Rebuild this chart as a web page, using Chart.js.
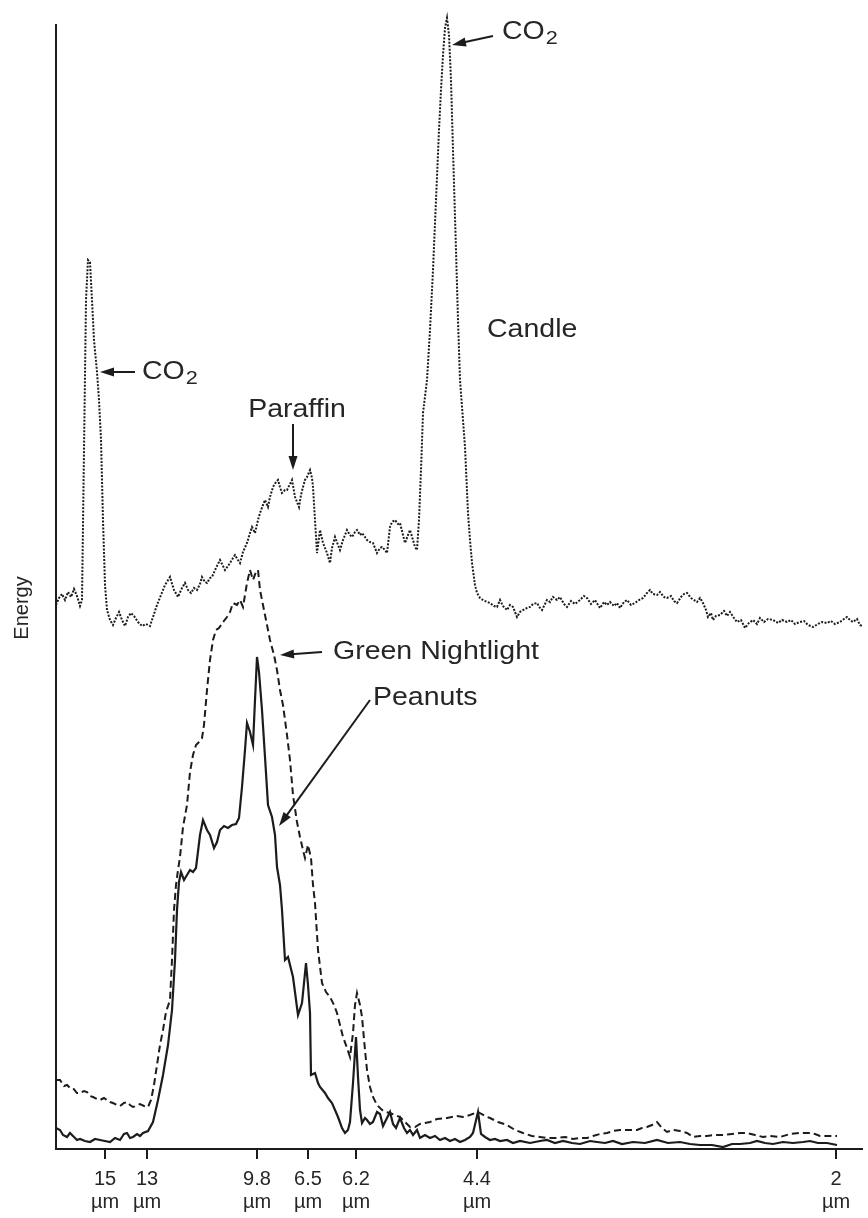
<!DOCTYPE html>
<html>
<head>
<meta charset="utf-8">
<script src="https://cdn.jsdelivr.net/npm/chart.js@4.4.1/dist/chart.umd.min.js"></script>
<style>
  html, body { margin: 0; padding: 0; background: #fff; }
  #wrap { width: 868px; height: 1218px; position: relative; }
</style>
</head>
<body>
<div id="wrap"><canvas id="spectrum"></canvas></div>
<script>
// Emission spectra: [detector channel, energy (arbitrary units)]
const candle = [
  [0,544],[3,551],[6,555],[9,549],[12,557],[15,552],[18,560],[21,553],[24,543],[26,549],
  [28,699],[30,849],[32,889],[34,887],[36,849],[38,809],[41,777],[43,749],[45,709],[47,629],
  [49,564],[51,539],[54,529],[57,524],[60,531],[63,537],[66,529],[69,523],[72,532],[75,536],
  [78,533],[82,527],[86,523],[90,525],[94,523],[97,532],[101,544],[105,554],[109,564],[114,572],
  [118,559],[122,552],[126,561],[129,566],[132,559],[135,556],[138,561],[141,559],[144,565],[146,572],
  [149,567],[151,566],[154,571],[156,572],[160,581],[164,589],[167,583],[169,579],[172,583],[174,586],
  [177,591],[179,594],[182,589],[184,586],[187,597],[191,606],[194,616],[196,622],[199,616],[202,629],
  [204,636],[207,644],[209,649],[212,642],[214,652],[217,662],[220,667],[222,669],[224,662],[226,656],
  [229,659],[231,659],[234,665],[236,669],[239,652],[241,647],[243,642],[245,654],[247,662],[249,669],
  [251,672],[254,679],[256,671],[257,662],[259,629],[261,596],[264,619],[267,606],[269,601],[271,596],
  [274,586],[276,601],[279,612],[282,604],[284,599],[287,609],[291,619],[294,614],[296,612],[299,617],
  [301,619],[304,614],[306,616],[309,612],[311,609],[314,607],[317,606],[319,601],[321,596],[324,601],
  [326,602],[329,599],[331,596],[334,622],[336,627],[339,629],[342,625],[344,626],[347,614],[349,606],
  [352,614],[354,619],[357,609],[359,602],[361,599],[363,629],[365,679],[367,736],[371,769],[374,819],
  [377,879],[380,949],[383,1019],[385,1059],[387,1094],[389,1121],[391,1131],[393,1114],[395,1069],[397,999],
  [400,899],[402,829],[404,769],[407,729],[409,702],[412,636],[414,609],[416,586],[419,564],[421,556],
  [424,551],[427,549],[431,547],[434,546],[438,543],[441,542],[444,549],[447,543],[451,539],[454,544],
  [457,542],[461,532],[464,537],[467,539],[471,541],[474,542],[477,545],[481,546],[484,541],[486,539],
  [489,545],[491,549],[494,547],[497,552],[501,549],[504,552],[508,545],[511,542],[515,548],[519,545],
  [524,549],[528,553],[531,551],[535,545],[539,549],[544,541],[548,547],[551,544],[554,547],[558,543],
  [561,546],[564,541],[568,547],[571,549],[575,544],[579,546],[583,549],[587,551],[591,556],[594,559],
  [597,555],[601,554],[604,557],[608,552],[611,551],[615,553],[618,548],[621,546],[625,552],[628,555],
  [631,556],[635,551],[638,549],[641,547],[644,551],[647,546],[650,539],[652,532],[655,536],[657,529],
  [660,533],[664,534],[668,538],[671,533],[674,537],[678,531],[681,527],[685,529],[689,521],[693,526],
  [697,529],[701,525],[704,531],[708,527],[712,530],[717,529],[722,526],[726,529],[731,527],[735,529],
  [739,525],[744,527],[748,528],[752,524],[757,522],[762,525],[766,527],[771,526],[775,528],[779,525],
  [784,527],[788,530],[791,532],[794,529],[797,527],[801,530],[804,524],[806,523]
];

const greenNightlight = [
  [0,69],[4,69],[8,63],[11,64],[14,61],[17,61],[21,56],[24,56],[28,58],[31,57],
  [34,53],[37,52],[41,50],[44,49],[48,51],[51,49],[54,47],[57,46],[61,44],[64,43],
  [68,46],[71,47],[74,44],[77,42],[80,43],[84,45],[88,43],[92,42],[95,49],[98,64],
  [101,84],[104,104],[107,119],[110,137],[114,149],[116,189],[118,239],[120,264],[122,279],[124,292],
  [127,322],[131,344],[134,377],[137,394],[140,404],[143,407],[146,411],[148,424],[151,459],[154,489],
  [157,509],[160,519],[163,521],[167,527],[171,532],[174,537],[177,546],[181,544],[184,549],[187,542],
  [191,566],[194,579],[197,569],[200,577],[202,579],[204,559],[207,544],[210,529],[214,509],[218,494],
  [221,479],[224,459],[227,444],[231,414],[234,389],[237,354],[241,327],[244,312],[247,299],[249,291],
  [252,304],[255,291],[257,264],[259,246],[262,199],[266,166],[270,157],[274,152],[278,144],[281,136],
  [284,124],[287,112],[291,101],[294,92],[297,116],[299,144],[301,156],[304,144],[306,132],[309,99],
  [311,79],[314,62],[317,52],[321,44],[326,39],[330,37],[334,36],[339,34],[344,32],[349,27],
  [354,22],[359,22],[364,25],[369,26],[374,27],[381,30],[391,31],[401,33],[407,32],[414,34],
  [422,37],[429,33],[434,31],[442,27],[451,24],[459,19],[467,16],[476,13],[484,12],[492,11],
  [501,11],[509,12],[517,10],[524,11],[531,11],[537,13],[544,15],[551,16],[557,18],[564,19],
  [572,19],[581,19],[586,21],[591,22],[596,24],[601,27],[606,21],[611,17],[617,19],[624,18],
  [631,16],[637,12],[644,13],[651,13],[659,14],[667,14],[676,15],[684,16],[691,16],[699,14],
  [707,12],[714,13],[724,12],[734,15],[744,16],[754,16],[759,15],[764,13],[772,13],[781,13]
];

const peanuts = [
  [0,21],[4,19],[7,14],[11,12],[14,16],[17,13],[21,9],[24,10],[29,8],[34,7],
  [39,10],[44,9],[49,8],[54,7],[59,11],[64,9],[68,15],[71,16],[74,11],[77,12],
  [81,15],[84,13],[87,16],[92,18],[97,27],[102,49],[107,74],[112,104],[116,139],[119,189],
  [121,239],[123,267],[125,277],[128,269],[131,274],[134,279],[137,277],[140,281],[144,314],[147,329],
  [151,319],[154,314],[158,301],[161,307],[164,319],[168,323],[172,321],[176,324],[180,325],[183,331],
  [186,362],[189,399],[191,426],[194,417],[197,404],[199,449],[201,492],[203,477],[206,439],[209,392],
  [212,344],[216,332],[219,314],[221,282],[224,264],[226,239],[229,189],[232,192],[237,172],[242,134],
  [246,146],[250,186],[252,164],[254,136],[255,74],[259,76],[262,66],[264,62],[269,56],[272,51],
  [276,46],[279,39],[282,32],[286,21],[289,16],[292,19],[294,27],[297,66],[300,112],[302,72],
  [304,39],[306,26],[309,31],[311,29],[314,25],[317,27],[321,37],[324,35],[327,23],[330,29],
  [334,37],[337,25],[340,21],[344,31],[348,21],[351,16],[354,19],[357,14],[361,19],[364,11],
  [369,14],[374,11],[379,13],[384,9],[389,11],[394,8],[399,10],[404,7],[409,9],[414,12],
  [417,16],[422,37],[425,15],[429,12],[434,9],[439,10],[444,8],[451,9],[457,6],[464,8],
  [474,6],[484,8],[491,9],[499,6],[507,8],[516,6],[524,5],[534,8],[541,7],[549,6],
  [557,8],[566,5],[577,7],[589,6],[601,9],[612,6],[624,7],[634,5],[644,4],[656,4],
  [667,2],[676,5],[684,5],[694,6],[701,8],[709,6],[717,5],[727,7],[737,6],[747,7],
  [754,8],[762,6],[771,6],[781,4]
];

// Wavelength markers along the channel axis
const tickChannels = [49, 91, 201, 252, 300, 421, 780];
const tickLabels = ['15', '13', '9.8', '6.5', '6.2', '4.4', '2'];
const tickUnit = 'µm';

const channelMin = 0, channelMax = 806;
const energyMin = 0, energyMax = 1124;

const toPoints = arr => arr.map(([x, y]) => ({ x, y }));

const INK = '#1c1c1c';
const TEXT = '#262626';
const FONT = '"Liberation Sans", Arial, Helvetica, sans-serif';

// Callouts: arrow tips sit on the curves (data units); text and tails are pixel offsets from the tip
const callouts = [
  { text: 'CO', sub: '2', at: [44, 777], tail: [35, 0], label: [42, 0] },
  { text: 'CO', sub: '2', at: [396, 1104], tail: [41, -9], label: [50, -13] },
  { text: 'Paraffin', at: [237, 679], tail: [0, -46], label: [4, -60], align: 'center' },
  { text: 'Green Nightlight', at: [224, 494], tail: [42, -3], label: [53, -3] },
  { text: 'Peanuts', at: [223, 323], tail: [91, -126], label: [94, -128] }
];
const freeLabels = [
  { text: 'Candle', at: [431, 819] }
];

function drawStretched(ctx, str, x, y, size, align) {
  ctx.save();
  ctx.font = size + 'px ' + FONT;
  const sx = 1.14;
  const w = ctx.measureText(str).width * sx;
  let x0 = x;
  if (align === 'center') x0 = x - w / 2;
  ctx.translate(x0, y);
  ctx.scale(sx, 1);
  ctx.textAlign = 'left';
  ctx.textBaseline = 'middle';
  ctx.fillText(str, 0, 0);
  ctx.restore();
  return w;
}

function drawArrow(ctx, fx, fy, tx, ty) {
  const ang = Math.atan2(ty - fy, tx - fx);
  const head = 14, half = 4.5;
  ctx.save();
  ctx.strokeStyle = INK;
  ctx.fillStyle = INK;
  ctx.lineWidth = 2;
  ctx.beginPath();
  ctx.moveTo(fx, fy);
  ctx.lineTo(tx - Math.cos(ang) * head * 0.8, ty - Math.sin(ang) * head * 0.8);
  ctx.stroke();
  ctx.beginPath();
  ctx.moveTo(tx, ty);
  ctx.lineTo(tx - Math.cos(ang) * head + Math.sin(ang) * half, ty - Math.sin(ang) * head - Math.cos(ang) * half);
  ctx.lineTo(tx - Math.cos(ang) * head - Math.sin(ang) * half, ty - Math.sin(ang) * head + Math.cos(ang) * half);
  ctx.closePath();
  ctx.fill();
  ctx.restore();
}

const notesPlugin = {
  id: 'spectrumNotes',
  afterDraw(chart) {
    const { ctx, scales: { x, y } } = chart;
    ctx.save();
    ctx.fillStyle = TEXT;
    callouts.forEach(c => {
      const tx = x.getPixelForValue(c.at[0]);
      const ty = y.getPixelForValue(c.at[1]);
      drawArrow(ctx, tx + c.tail[0], ty + c.tail[1], tx, ty);
      const lx = tx + c.label[0], ly = ty + c.label[1];
      const w = drawStretched(ctx, c.text, lx, ly, 25, c.align);
      if (c.sub) drawStretched(ctx, c.sub, lx + w + 1, ly + 7, 19);
    });
    freeLabels.forEach(l => {
      drawStretched(ctx, l.text, x.getPixelForValue(l.at[0]), y.getPixelForValue(l.at[1]), 25);
    });
    // vertical axis caption
    ctx.save();
    ctx.translate(22, (chart.chartArea.top + chart.chartArea.bottom) / 2 + 21);
    ctx.rotate(-Math.PI / 2);
    ctx.font = '20px ' + FONT;
    ctx.textAlign = 'center';
    ctx.textBaseline = 'middle';
    ctx.fillText('Energy', 0, 0);
    ctx.restore();
    ctx.restore();
  }
};

new Chart(document.getElementById('spectrum'), {
  type: 'line',
  data: {
    datasets: [
      {
        label: 'Candle',
        data: toPoints(candle),
        borderColor: INK,
        borderWidth: 2,
        borderDash: [2, 1.5],
        clip: false
      },
      {
        label: 'Green Nightlight',
        data: toPoints(greenNightlight),
        borderColor: INK,
        borderWidth: 2,
        borderDash: [7, 4]
      },
      {
        label: 'Peanuts',
        data: toPoints(peanuts),
        borderColor: INK,
        borderWidth: 2.2
      }
    ]
  },
  options: {
    responsive: true,
    maintainAspectRatio: false,
    animation: false,
    devicePixelRatio: 1,
    elements: { point: { radius: 0 }, line: { tension: 0, fill: false } },
    layout: { padding: { top: 25, right: 6, left: 0, bottom: 0 } },
    plugins: { legend: { display: false }, tooltip: { enabled: false } },
    scales: {
      x: {
        type: 'linear',
        min: channelMin,
        max: channelMax,
        afterBuildTicks: s => { s.ticks = tickChannels.map(v => ({ value: v })); },
        afterFit: s => { s.height = 69; },
        ticks: {
          autoSkip: false,
          maxRotation: 0,
          padding: 9,
          color: TEXT,
          font: { family: FONT, size: 20, lineHeight: 1.15 },
          callback: v => {
            const i = tickChannels.indexOf(v);
            return i < 0 ? '' : [tickLabels[i], tickUnit];
          }
        },
        grid: { drawOnChartArea: false, drawTicks: true, tickLength: 10, lineWidth: 2, color: INK },
        border: { display: true, width: 2, color: INK }
      },
      y: {
        type: 'linear',
        min: energyMin,
        max: energyMax,
        afterFit: s => { s.width = 56; },
        ticks: { display: false },
        grid: { display: false, drawTicks: false },
        border: { display: true, width: 2, color: INK }
      }
    }
  },
  plugins: [notesPlugin]
});
</script>
</body>
</html>
